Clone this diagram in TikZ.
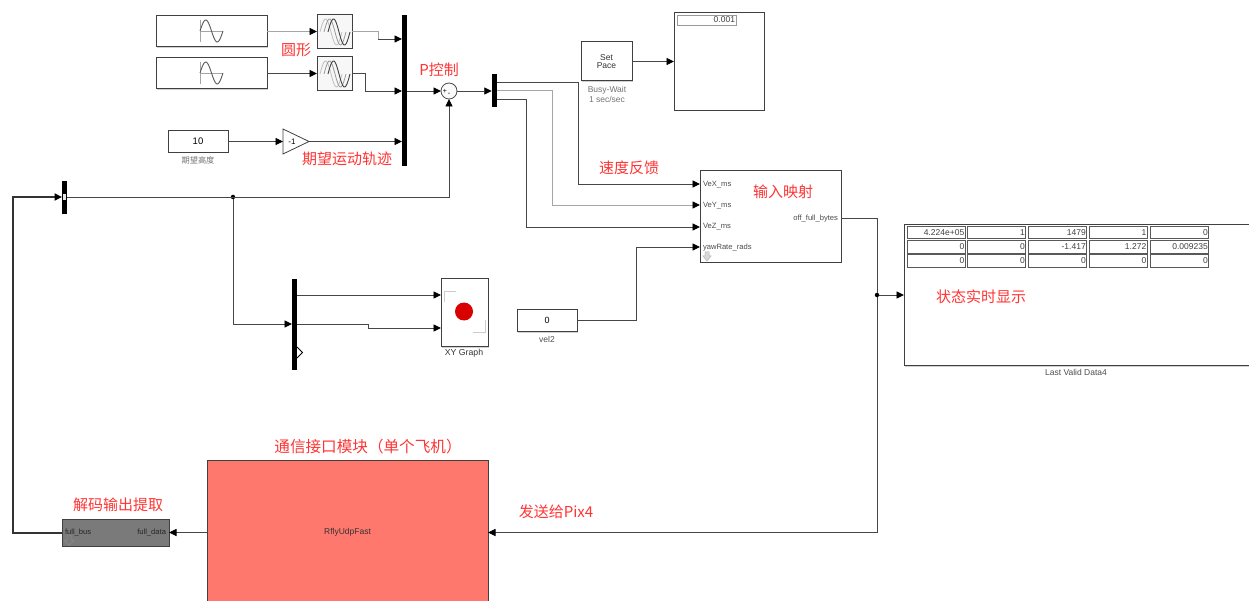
\documentclass[tikz,border=0pt]{standalone}
\usepackage{fontspec}
\setmainfont{Liberation Sans}
\newfontfamily\cjk{Noto Sans CJK SC}
\usetikzlibrary{arrows.meta,shadows}
\definecolor{notered}{RGB}{255,52,52}
\definecolor{wire}{RGB}{70,70,70}
\definecolor{palewire}{RGB}{165,165,165}
\definecolor{blockred}{RGB}{255,120,110}
\definecolor{blockgrey}{RGB}{122,122,122}

\begin{document}
\begin{tikzpicture}[x=1pt, y=-1pt,
    every node/.style={inner sep=0pt, outer sep=0pt},
    block/.style={draw=black!75, line width=1pt, rectangle, fill=white, drop shadow={shadow xshift=1pt, shadow yshift=-1pt, fill=black!30, opacity=0.6}},
    muxbar/.style={fill=black, rectangle, minimum width=5.5pt},
    cell/.style={draw=black!65, line width=0.8pt, rectangle, fill=white, minimum width=58pt, minimum height=12.5pt, align=right, text width=56.5pt, font=\fontsize{8.5}{8.5}\selectfont, text=black!75},
    note/.style={text=notered, font=\fontsize{15}{15}\selectfont\cjk},
    tag/.style={font=\fontsize{7.6}{7.6}\selectfont, text=black!70},
    sig/.style={-{Triangle[length=7.5pt, width=7pt, color=black]}, draw=wire, line width=0.9pt},
    plain/.style={draw=wire, line width=0.9pt},
    jointdot/.style={circle, fill=black, minimum size=4.5pt}]
    \useasboundingbox (0,0) rectangle (1249,601);

    % sources and scopes
    \node[block, minimum width=111pt, minimum height=31pt] (sine1) at (211.5,31.5) {};
    \node[block, minimum width=111pt, minimum height=31pt] (sine2) at (211.5,73.5) {};
    \node[block, minimum width=35pt, minimum height=34pt, fill=black!3] (scope1) at (334.5,31.5) {};
    \node[block, minimum width=35pt, minimum height=34pt, fill=black!3] (scope2) at (334.5,73.5) {};
    \foreach \cy in {31,73} {
        \draw[palewire, line width=0.7pt] (200,\cy-11) -- (200,\cy+11) (200,\cy) -- (223,\cy);
        \draw[black!65, line width=0.9pt] plot[domain=0:360, samples=30] ({200+\x/360*23}, {\cy-11*sin(\x)});
        \draw[black!25, line width=0.8pt] plot[domain=0:360, samples=30] ({320+\x/360*22}, {\cy+1-13*sin(\x)});
        \draw[black!40, line width=0.8pt] plot[domain=0:360, samples=30] ({324+\x/360*22}, {\cy+1-13*sin(\x)});
        \draw[black!75, line width=0.9pt] plot[domain=0:360, samples=30] ({328+\x/360*22}, {\cy+1-13*sin(\x)});
    }
    \node[block, minimum width=60pt, minimum height=22pt, font=\fontsize{9.5}{9.5}\selectfont] (height) at (198,141.5) {10};
    \node[font=\fontsize{8.2}{8.2}\selectfont\cjk, text=black!55] (heightname) at (198,160) {期望高度};
    \draw[black!75, line width=0.8pt, fill=white] (283,129) -- (309,141.5) -- (283,154) -- cycle;
    \node[font=\fontsize{8}{8}\selectfont] (gainlbl) at (292,141.5) {-1};
    \coordinate (gainin) at (283,141.5);
    \coordinate (gainout) at (309,141.5);

    % bars and sum
    \node[muxbar, minimum height=151pt] (bar1) at (404.5,90.5) {};
    \node[muxbar, minimum height=33pt] (bar2) at (494.5,90.5) {};
    \node[muxbar, minimum height=33pt] (bar3) at (64.5,197.5) {};
    \node[muxbar, minimum height=91pt] (bar4) at (294.5,324.5) {};
    \node[draw=black!70, circle, line width=0.8pt, minimum size=16pt, fill=black!2] (sum) at (449,91) {};
    \node[font=\fontsize{7}{7}\selectfont] (sumplus) at (445,91) {+};
    \node[font=\fontsize{7}{7}\selectfont] (summinus) at (449,94) {-};
    \node[rectangle, fill=black!10, minimum width=3pt, minimum height=6pt] (busport) at (64.5,197.5) {};
    \draw[black, line width=0.9pt, fill=white] (297,347) -- (302.5,352.5) -- (297,358);
    \coordinate (sumin) at (449,99);

    % pacing and readout
    \node[block, minimum width=51pt, minimum height=39pt, align=center, font=\fontsize{8.5}{7.5}\selectfont, text=black!80] (pace) at (606.5,61.5) {Set\\Pace};
    \node[tag, align=center, text=black!55, font=\fontsize{8.5}{10}\selectfont] (pacename) at (607,94) {Busy-Wait\\1 sec/sec};
    \node[block, minimum width=90pt, minimum height=98pt] (clockbox) at (719,61.5) {};
    \node[draw=black!40, line width=0.7pt, rectangle, minimum width=59pt, minimum height=10pt, text width=57pt, align=right, font=\fontsize{8.5}{8.5}\selectfont, text=black!75] (clockval) at (706.5,20) {0.001};

    % mapping block
    \node[block, minimum width=141pt, minimum height=92pt] (mapper) at (770.5,216.5) {};
    \node[tag, anchor=west] (vex) at (703,185) {VeX\_ms};
    \node[tag, anchor=west] (vey) at (703,205.5) {VeY\_ms};
    \node[tag, anchor=west] (vez) at (703,227) {VeZ\_ms};
    \node[tag, anchor=west] (yaw) at (703,248) {yawRate\_rads};
    \node[tag, anchor=east] (offbytes) at (838,218.5) {off\_full\_bytes};
    \draw[black!30, fill=black!15, line width=0.5pt] (705,252) -- (709,252) -- (709,256) -- (711,256) -- (707,261) -- (703,256) -- (705,256) -- cycle;
    \coordinate (vexin) at (700,184);
    \coordinate (veyin) at (700,205);
    \coordinate (vezin) at (700,227);
    \coordinate (yawin) at (700,247);

    % constant and xy graph
    \node[block, minimum width=60pt, minimum height=22pt, font=\fontsize{9}{9}\selectfont] (vel) at (547,320.5) {0};
    \node[tag, font=\fontsize{8.5}{8.5}\selectfont] (velname) at (547,339) {vel2};
    \node[block, minimum width=47pt, minimum height=68pt] (xygraph) at (464.5,312.5) {};
    \node[circle, fill=red!85!black, minimum size=18pt] (xydot) at (464,311.5) {};
    \draw[black!20, line width=0.8pt] (456,291) -- (444,291) -- (444,302) (473,332) -- (485,332) -- (485,320);
    \node[tag, font=\fontsize{8.7}{8.7}\selectfont, text=black!80] (xyname) at (464,353) {XY Graph};

    % state table
    \node[block, minimum width=346pt, minimum height=141pt] (statebox) at (1077,295) {};
    \node[tag, font=\fontsize{8.5}{8.5}\selectfont] (statename) at (1076,372) {Last Valid Data4};
    \foreach \col/\cx/\a/\b/\c [count=\i] in {a/936/4.224e+05/0/0, b/996.5/1/0/0, c/1057.5/1479/-1.417/0, d/1118/1/1.272/0, e/1179.5/0/0.009235/0} {
        \node[cell] (r1\col) at (\cx,232.5) {\a};
        \node[cell] (r2\col) at (\cx,247) {\b};
        \node[cell] (r3\col) at (\cx,261) {\c};
    }

    % comm blocks
    \node[block, fill=blockred, minimum width=281pt, minimum height=145pt, font=\fontsize{8.5}{8.5}\selectfont, text=black!80] (comm) at (347.5,532.5) {RflyUdpFast};
    \node[block, fill=blockgrey, minimum width=107pt, minimum height=27pt] (decode) at (115.5,532.5) {};
    \node[tag, anchor=west, text=black!85] (fullbus) at (65,532) {full\_bus};
    \node[tag, anchor=east, text=black!85] (fulldata) at (166,532) {full\_data};
    \draw[black!45, line width=0.5pt] (67,535) -- (71,535) -- (71,540) -- (74,540) -- (69,545) -- (64,540) -- (67,540) -- cycle;

    % junctions and bar ports
    \coordinate (bar1a) at (402,39);
    \coordinate (bar1b) at (402,91);
    \coordinate (bar1c) at (402,141.5);
    \coordinate (bar2a) at (497,82);
    \coordinate (bar2b) at (497,90);
    \coordinate (bar2c) at (497,99);
    \coordinate (bar3in) at (62,197);
    \coordinate (bar3out) at (67,197);
    \coordinate (bar4a) at (297,295);
    \coordinate (bar4b) at (297,324);
    \coordinate (bar4in) at (292,324);
    \coordinate (xya) at (441,295);
    \coordinate (xyb) at (441,328);
    \coordinate (commin) at (488,532.5);
    \node[jointdot] (posjoint) at (233,197) {};
    \node[jointdot] (outjoint) at (877,295) {};

    % wires
    \draw[sig, draw=palewire] (sine1) -- (scope1);
    \draw[sig] (sine2) -- (scope2);
    \draw[draw=palewire, line width=0.9pt] (scope1.east) -- (378,31.5) -- (378,39);
    \draw[sig] (378,39) -- (bar1a);
    \draw[sig] (scope2.east) -- (365,73.5) -- (365,91) -- (bar1b);
    \draw[sig] (height) -- (gainin);
    \draw[sig] (gainout) -- (bar1c);
    \draw[sig] (bar1.east |- sum) -- (sum);
    \draw[sig] (sum) -- (bar2.west |- sum);
    \draw[sig] (bar3out) -- (449,197) -- (sumin);
    \draw[sig] (bar2a) -- (578,82) -- (578,184) -- (vexin);
    \draw[sig, draw=palewire] (bar2b) -- (552,90) -- (552,205) -- (veyin);
    \draw[sig] (bar2c) -- (526,99) -- (526,227) -- (vezin);
    \draw[sig] (vel) -- (636,320.5) -- (636,247) -- (yawin);
    \draw[sig] (pace) -- (clockbox);
    \draw[sig] (posjoint) -- (233,324) -- (bar4in);
    \draw[sig] (bar4a) -- (xya);
    \draw[sig] (bar4b) -- (368,324) -- (368,328) -- (xyb);
    \draw[plain] (mapper.east |- offbytes) -- (877,218.5) -- (outjoint);
    \draw[sig] (outjoint) -- (statebox.west |- outjoint);
    \draw[sig] (outjoint) -- (877,532.5) -- (commin);
    \draw[sig] (comm.west |- decode) -- (decode);
    \draw[-{Triangle[length=7.5pt, width=7pt, color=black]}, draw=black!80, line width=2pt] (decode.west) -- (13,532.5) -- (13,197) -- (bar3in);

    % red notes
    \node[note] (ntcircle) at (296,50) {圆形};
    \node[note] (ntp) at (439,70) {P控制};
    \node[note] (nttraj) at (347,159) {期望运动轨迹};
    \node[note] (ntvel) at (629,168) {速度反馈};
    \node[note] (ntmap) at (783,192) {输入映射};
    \node[note] (ntstate) at (981,297) {状态实时显示};
    \node[note, font=\fontsize{15.6}{15.6}\selectfont\cjk] (ntcomm) at (368,447) {通信接口模块（单个飞机）};
    \node[note] (ntdecode) at (118,505) {解码输出提取};
    \node[note] (ntsend) at (556,512) {发送给Pix4};
\end{tikzpicture}
\end{document}
